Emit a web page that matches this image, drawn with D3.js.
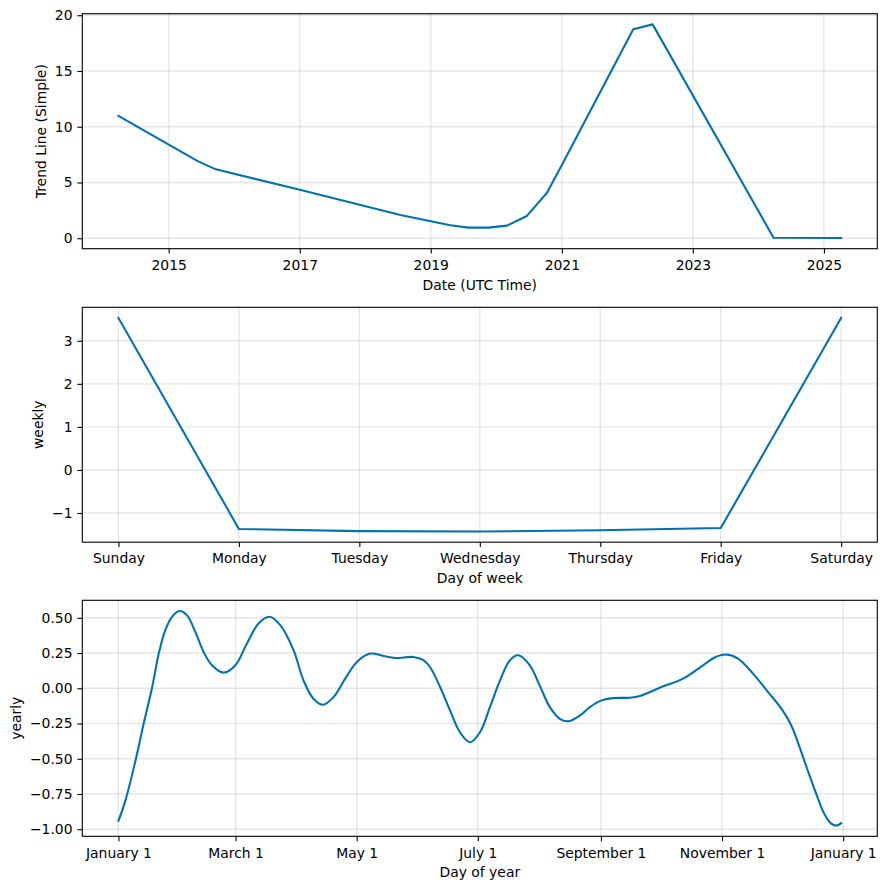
<!DOCTYPE html>
<html>
<head>
<meta charset="utf-8">
<script src="https://cdn.jsdelivr.net/npm/d3@7"></script>
<style>
  html, body { margin: 0; padding: 0; background: #fff; }
  svg { display: block; }
  text { font-family: "DejaVu Sans", sans-serif; font-size: 13.9px; fill: #000; }
</style>
</head>
<body>
<svg id="chart" width="886" height="889"></svg>
<script>
// ---------------- DATA ----------------
const trendDates = ["2014-03-27","2015-06-12","2015-09-21","2017-01-07","2018-07-16","2019-04-20",
  "2019-07-31","2019-11-19","2020-03-01","2020-06-20","2020-10-10","2021-01-01",
  "2022-02-03","2022-05-22","2024-03-26","2025-04-07"];
const trendValues = [10.98, 6.92, 6.18, 4.32, 2.09, 1.16, 0.95, 0.95, 1.13, 2.0, 4.08, 6.56,
  18.74, 19.18, 0.04, 0.02];
const trendTickYears = [2015, 2017, 2019, 2021, 2023, 2025];
const trendYTicks = [0, 5, 10, 15, 20];

const weekDays = ["Sunday","Monday","Tuesday","Wednesday","Thursday","Friday","Saturday"];
const weeklyValues = [3.53, -1.37, -1.42, -1.43, -1.40, -1.35, 3.53];
const weeklyYTicks = [-1, 0, 1, 2, 3];

const yearlyDays = [0, 3.5, 8.6, 12.7, 17, 20.3, 23.6, 27, 30.7, 34.5, 38.7, 42.9, 47.1, 53, 58.9,
  64.7, 70.6, 76.1, 81.5, 88.2, 93.2, 98.2, 103, 108.3, 114.2, 120.1, 126.8, 133.5, 139.3,
  148.5, 153.6, 156.9, 162, 167, 172, 177.1, 182.1, 187.1, 192.2, 197.2, 201.4, 207.2, 212.3,
  217.3, 222.3, 226.5, 232.4, 237.4, 243.3, 249.1, 257.5, 262.6, 272.6, 284.4, 294.4, 300.3,
  305.8, 312, 319.6, 327.2, 333.9, 338.9, 343.1, 347.2, 351.5, 355.6, 359, 361.8, 364];
const yearlyValues = [-0.941, -0.797, -0.512, -0.252, 0.009, 0.246, 0.412, 0.507, 0.548, 0.519,
  0.40, 0.258, 0.163, 0.111, 0.163, 0.318, 0.46, 0.507, 0.448, 0.27, 0.056, -0.074, -0.117,
  -0.063, 0.068, 0.187, 0.246, 0.229, 0.215, 0.222, 0.199, 0.151, 0.009, -0.157, -0.312,
  -0.383, -0.312, -0.134, 0.056, 0.199, 0.234, 0.163, 0.015, -0.134, -0.217, -0.234, -0.193,
  -0.134, -0.086, -0.07, -0.067, -0.055, 0.004, 0.068, 0.163, 0.218, 0.239, 0.211, 0.104,
  -0.027, -0.145, -0.264, -0.419, -0.585, -0.751, -0.893, -0.96, -0.974, -0.957];
const yearlyTickDays = [0, 59, 120, 181, 243, 304, 365];
const yearlyTickLabels = ["January 1","March 1","May 1","July 1","September 1","November 1","January 1"];
const yearlyYTicks = [-1.0, -0.75, -0.5, -0.25, 0.0, 0.25, 0.5];

// ---------------- LAYOUT ----------------
const svg = d3.select("#chart");
svg.append("rect").attr("width", 886).attr("height", 889).attr("fill", "#fff");
const left = 82.3, right = 877.3;
const panelsY = [[13.7, 248.7], [307.3, 542.2], [600.3, 836.3]];
const LINE_COLOR = "#0072B2";
const TICK = 4.9;

function pad(ext) {
  const a = +ext[0], b = +ext[1], r = b - a;
  return [a - 0.05 * r, b + 0.05 * r];
}

function drawPanel(idx, x, y, xTicks, xFmt, yTicks, yFmt, xs, ys, xLabel, yLabel, curve) {
  const [top, bottom] = panelsY[idx];
  const g = svg.append("g");
  // grid
  g.append("g").selectAll("line").data(xTicks).join("line")
    .attr("x1", d => x(d)).attr("x2", d => x(d)).attr("y1", top).attr("y2", bottom)
    .attr("stroke", "#808080").attr("stroke-opacity", 0.2).attr("stroke-width", 1.39);
  g.append("g").selectAll("line").data(yTicks).join("line")
    .attr("y1", d => y(d)).attr("y2", d => y(d)).attr("x1", left).attr("x2", right)
    .attr("stroke", "#808080").attr("stroke-opacity", 0.2).attr("stroke-width", 1.39);
  // line
  const pts = xs.map((v, i) => [x(v), y(ys[i])]);
  g.append("path").attr("d", d3.line().curve(curve)(pts))
    .attr("fill", "none").attr("stroke", LINE_COLOR).attr("stroke-width", 2.08)
    .attr("stroke-linejoin", "round").attr("stroke-linecap", "square");
  // axes
  const xa = g.append("g").attr("transform", `translate(0,${bottom})`)
    .call(d3.axisBottom(x).tickValues(xTicks).tickFormat(xFmt).tickSize(TICK).tickPadding(6.5));
  const ya = g.append("g").attr("transform", `translate(${left},0)`)
    .call(d3.axisLeft(y).tickValues(yTicks).tickFormat(yFmt).tickSize(TICK).tickPadding(4.9));
  [xa, ya].forEach(a => {
    a.select(".domain").remove();
    a.selectAll("line").attr("stroke", "#000").attr("stroke-width", 1.1);
    a.selectAll("text").attr("font-family", null).attr("font-size", null).attr("fill", "#000");
  });
  // spine
  g.append("rect").attr("x", left).attr("y", top).attr("width", right - left).attr("height", bottom - top)
    .attr("fill", "none").attr("stroke", "#000").attr("stroke-width", 1.1);
  // labels
  g.append("text").attr("x", (left + right) / 2).attr("y", bottom + 40.8)
    .attr("text-anchor", "middle").text(xLabel);
  let minX = left;
  ya.selectAll("text").each(function () {
    const b = this.getBBox(); const t = this.getCTM(); minX = Math.min(minX, b.x + t.e);
  });
  const lx = minX - 5.6 - 3.2;
  g.append("text").attr("transform", `translate(${lx},${(top + bottom) / 2}) rotate(-90)`)
    .attr("text-anchor", "middle").text(yLabel);
}

// Panel 1: trend
{
  const parse = d3.utcParse("%Y-%m-%d");
  const dates = trendDates.map(parse);
  const x = d3.scaleUtc().domain(pad(d3.extent(dates))).range([left, right]);
  const y = d3.scaleLinear().domain(pad(d3.extent(trendValues))).range([panelsY[0][1], panelsY[0][0]]);
  const ticks = trendTickYears.map(yr => new Date(Date.UTC(yr, 0, 1)));
  drawPanel(0, x, y, ticks, d3.utcFormat("%Y"), trendYTicks, d3.format("d"),
    dates, trendValues, "Date (UTC Time)", "Trend Line (Simple)", d3.curveLinear);
}
// Panel 2: weekly
{
  const idx = weekDays.map((d, i) => i);
  const x = d3.scaleLinear().domain(pad([0, weekDays.length - 1])).range([left, right]);
  const y = d3.scaleLinear().domain(pad(d3.extent(weeklyValues))).range([panelsY[1][1], panelsY[1][0]]);
  drawPanel(1, x, y, idx, i => weekDays[i], weeklyYTicks, d3.format("d"),
    idx, weeklyValues, "Day of week", "weekly", d3.curveLinear);
}
// Panel 3: yearly
{
  const x = d3.scaleLinear().domain(pad(d3.extent(yearlyDays))).range([left, right]);
  const y = d3.scaleLinear().domain(pad(d3.extent(yearlyValues))).range([panelsY[2][1], panelsY[2][0]]);
  drawPanel(2, x, y, yearlyTickDays, (d, i) => yearlyTickLabels[i], yearlyYTicks, d3.format(".2f"),
    yearlyDays, yearlyValues, "Day of year", "yearly", d3.curveCatmullRom.alpha(0.5));
}
</script>
</body>
</html>
